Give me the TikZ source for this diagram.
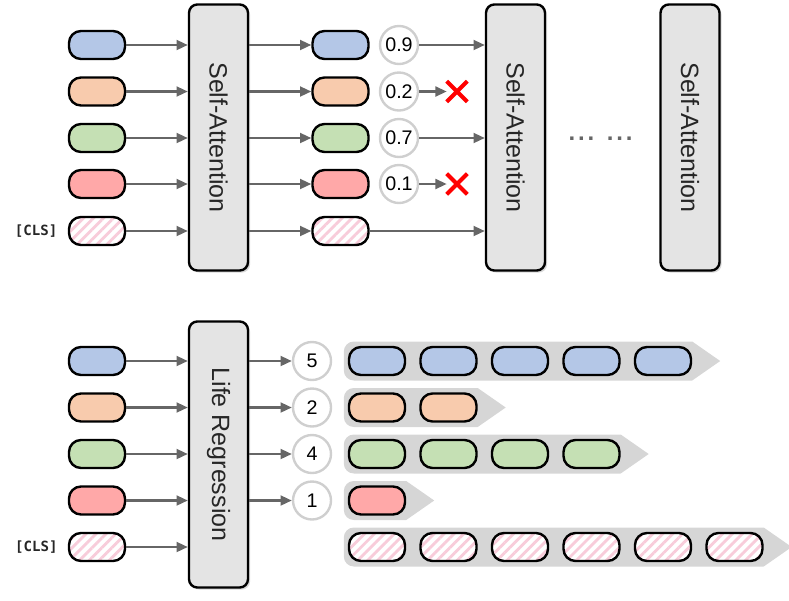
\documentclass[tikz,border=0pt]{standalone}
\usepackage{fontspec}
\setmainfont{Liberation Sans}
\setmonofont{DejaVu Sans Mono}
\usepackage{xcolor}
\usepackage{graphicx}
\usepackage{tikz}
\usetikzlibrary{arrows.meta,positioning,calc,shadows,
                patterns.meta,backgrounds}
\definecolor{tokblue}{HTML}{B4C7E7}
\definecolor{tokorange}{HTML}{F8CBAD}
\definecolor{tokgreen}{HTML}{C5E0B4}
\definecolor{tokred}{HTML}{FFA8A8}
\definecolor{clspink}{HTML}{F8CCDA}
\definecolor{layergray}{HTML}{E4E4E4}
\definecolor{bandgray}{HTML}{D6D6D6}
\definecolor{circgray}{HTML}{CFCFCF}
\definecolor{arrgray}{HTML}{666666}

\begin{document}
\begin{tikzpicture}[x=0.025cm, y=-0.025cm,
  pill/.style={
    draw=black, line width=1.7pt,
    rounded corners=0.3cm,
    minimum width=1.4cm, minimum height=0.7cm, inner sep=0pt},
  tblue/.style={pill, fill=tokblue},
  torange/.style={pill, fill=tokorange},
  tgreen/.style={pill, fill=tokgreen},
  tred/.style={pill, fill=tokred},
  tcls/.style={pill, preaction={fill=white},
    pattern={Lines[angle=45,distance=5pt,line width=2pt]},
    pattern color=clspink},
  layer/.style={
    draw=black, fill=layergray, line width=1.7pt,
    rounded corners=6pt,
    minimum width=1.475cm, minimum height=6.65cm, inner sep=0pt,
    drop shadow={shadow xshift=1.5pt, shadow yshift=-1.5pt, opacity=0.3},
    font=\fontsize{17.8}{20}\selectfont, text=black!85},
  score/.style={
    circle, draw=circgray, fill=white, line width=1.7pt,
    minimum size=0.95cm, inner sep=0pt,
    font=\fontsize{14}{16}\selectfont},
  clslabel/.style={font=\ttfamily\bfseries\fontsize{10}{12}\selectfont,
    text=black!85, inner sep=0pt},
  xmark/.style={minimum size=0.5cm, inner sep=0pt},
  cross/.style={red, line width=2.8pt},
  band/.style={fill=bandgray},
  arr/.style={-{Triangle[length=8pt,width=7pt]}, line width=1.6pt, color=arrgray}
]
  \useasboundingbox (0,0) rectangle (789,600);

  \node[tblue](a1) at (97,45){};
  \node[torange](a2) at (97,91.5){};
  \node[tgreen](a3) at (97,138){};
  \node[tred](a4) at (97,184){};
  \node[tcls](a5) at (97,231){};
  \node[clslabel, left=0.25cm of a5](clsa){[CLS]};

  \node[layer](sa1) at (218.5,137.5){\rotatebox{-90}{Self-Attention}};

  \node[tblue](b1) at (340.5,45){};
  \node[torange](b2) at (340.5,91.5){};
  \node[tgreen](b3) at (340.5,138){};
  \node[tred](b4) at (340.5,184){};
  \node[tcls](b5) at (340.5,231){};

  \node[score](s1) at (399,45){0.9};
  \node[score](s2) at (399,91.5){0.2};
  \node[score](s3) at (399,138){0.7};
  \node[score](s4) at (399,184){0.1};
  \node[xmark](x2) at (457,91.5){};
  \node[xmark](x4) at (457,184){};

  \node[layer](sa2) at (515.5,137.5){\rotatebox{-90}{Self-Attention}};
  \node[anchor=base, text=black!60, inner sep=0pt,
        font=\bfseries\fontsize{17}{18}\selectfont](dots) at (600.5,140)
        {.\hspace{2pt}.\hspace{2pt}.\hspace{9pt}.\hspace{2pt}.\hspace{2pt}.};
  \node[layer](sa3) at (690,137.5){\rotatebox{-90}{Self-Attention}};

  \foreach \i in {1,...,5}{
    \draw[arr](a\i)--(a\i -| sa1.west);
    \draw[arr](sa1.east |- b\i)--(b\i);
  }
  \draw[arr](s1)--(s1 -| sa2.west);
  \draw[arr](s3)--(s3 -| sa2.west);
  \draw[arr](b5)--(b5 -| sa2.west);
  \draw[arr](s2)--(x2.west);
  \draw[arr](s4)--(x4.west);
  \foreach \x in {x2,x4}
    \draw[cross](\x.north west)--(\x.south east) (\x.south west)--(\x.north east);

  \node[tblue](c1) at (97,361){};
  \node[torange](c2) at (97,407.5){};
  \node[tgreen](c3) at (97,454){};
  \node[tred](c4) at (97,500.5){};
  \node[tcls](c5) at (97,547){};
  \node[clslabel, left=0.25cm of c5](clsb){[CLS]};

  \node[layer](lr) at (218.5,454.5){\rotatebox{-90}{Life Regression}};

  \node[score](r1) at (312,361){5};
  \node[score](r2) at (312,407.5){2};
  \node[score](r3) at (312,454){4};
  \node[score](r4) at (312,500.5){1};

  \foreach \i in {1,...,5}
    \draw[arr](c\i)--(c\i -| lr.west);
  \foreach \i in {1,...,4}
    \draw[arr](lr.east |- r\i)--(r\i);

  \foreach \r/\y/\n/\s in {1/361/5/tblue,2/407.5/2/torange,3/454/4/tgreen,
                           4/500.5/1/tred,5/547/6/tcls}{
    \foreach \i in {1,...,\n}
      \node[\s](p\r-\i) at ({377+(\i-1)*71.5},\y){};
    \begin{scope}[on background layer]
      \fill[band]($(p\r-\n.east)+(28,0)$)--($(p\r-\n.east)+(0,-19.5)$)
        [rounded corners=0.25cm]--($(p\r-1.west)+(-4,-19.5)$)
        --($(p\r-1.west)+(-4,19.5)$)
        [sharp corners]--($(p\r-\n.east)+(0,19.5)$)--cycle;
    \end{scope}
  }
\end{tikzpicture}
\end{document}
